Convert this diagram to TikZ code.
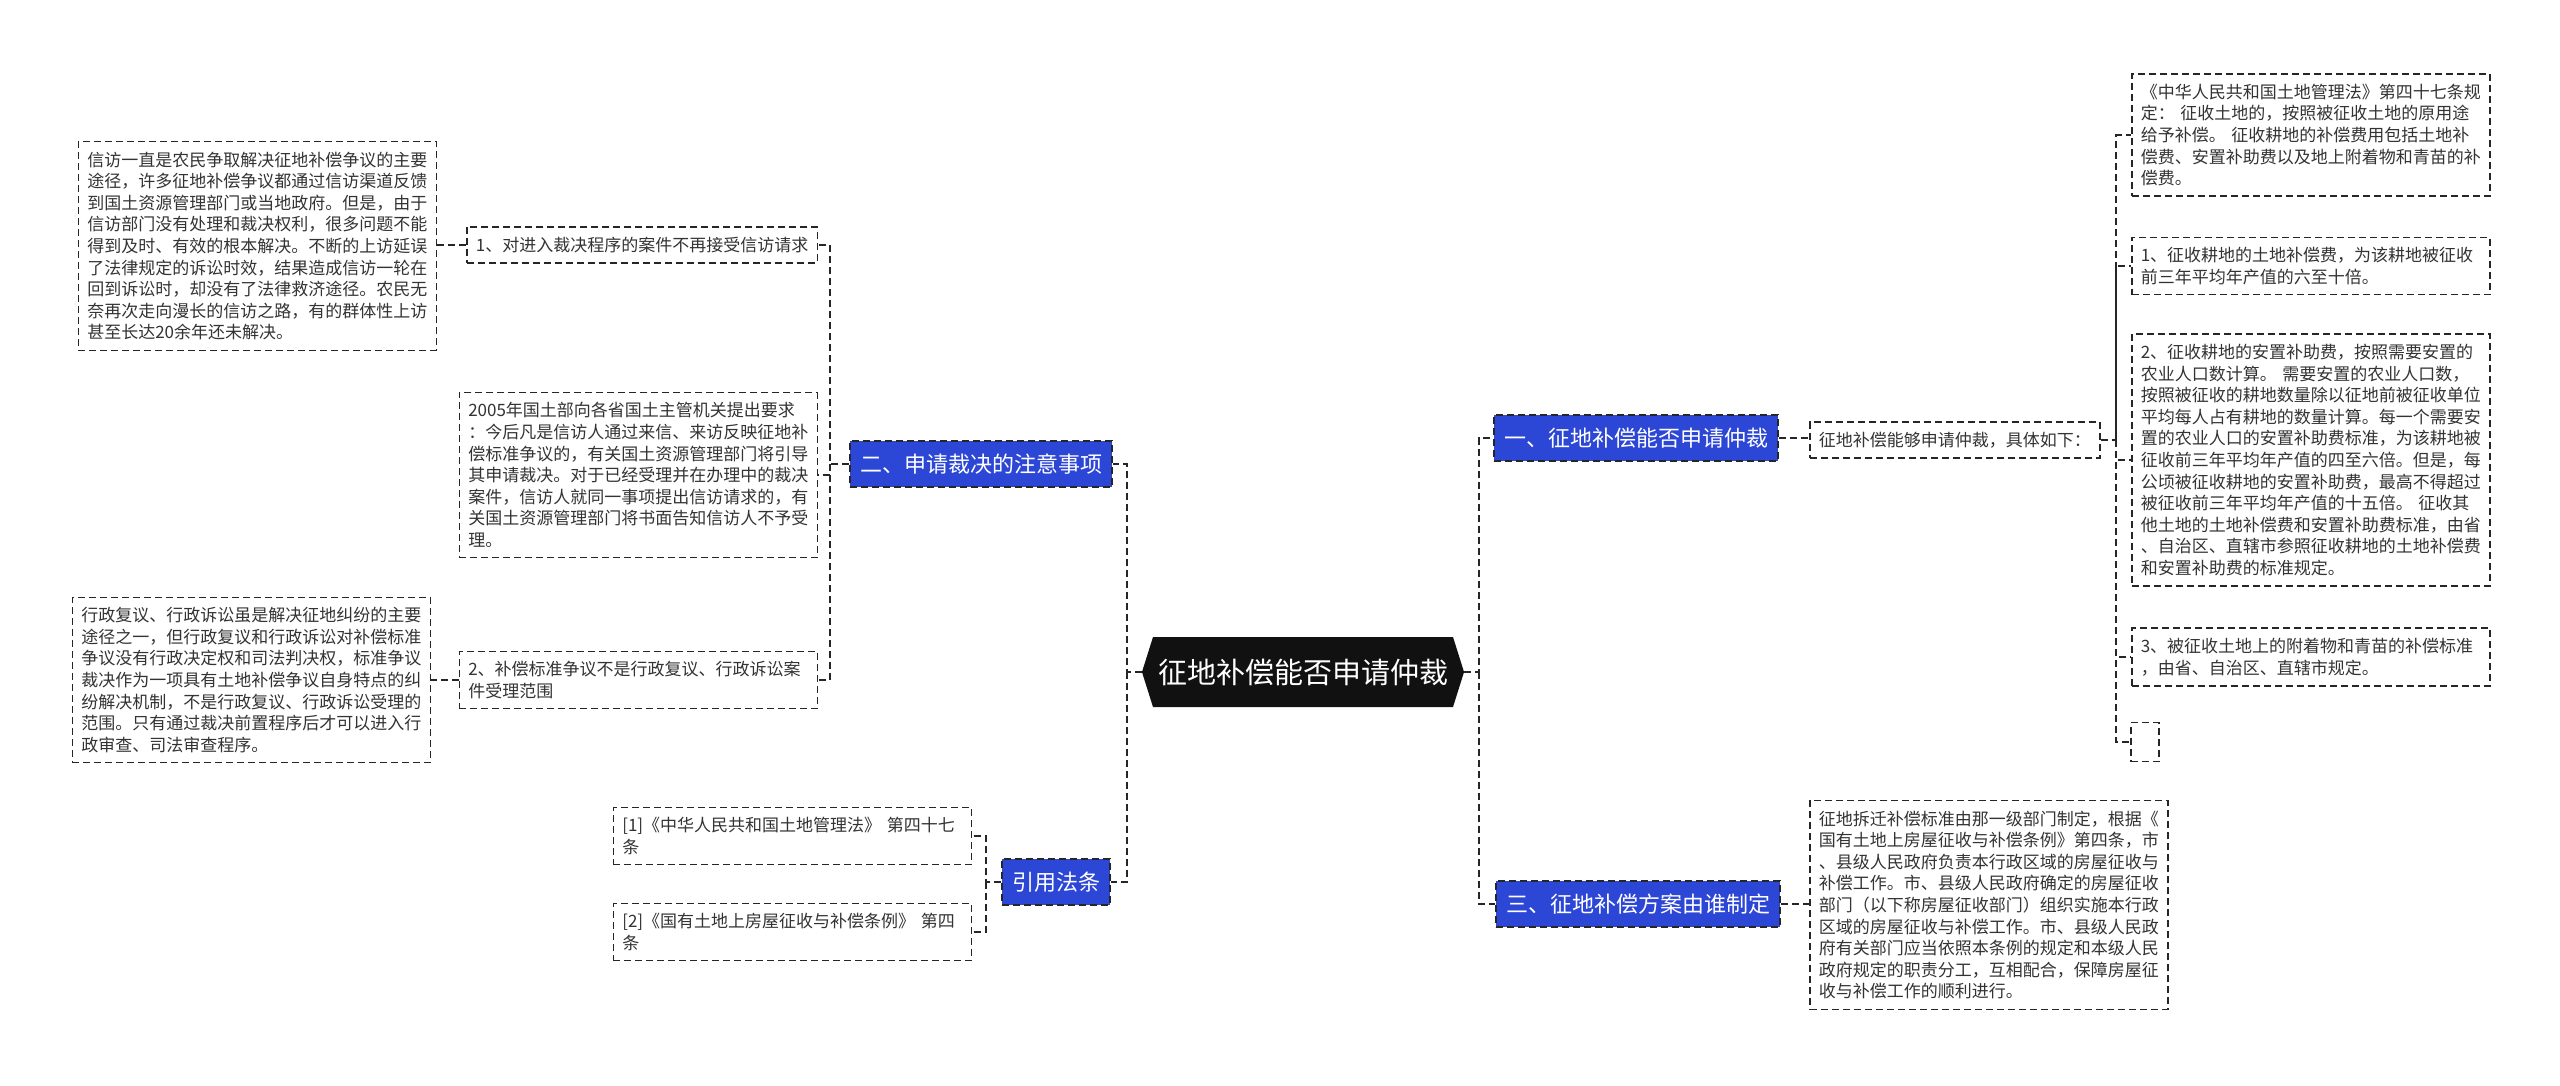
\documentclass[tikz,border=0pt]{standalone}
\usepackage{fontspec}
\setmainfont{Noto Sans CJK SC}
\usetikzlibrary{shapes.symbols}
\definecolor{linec}{HTML}{262626}
\definecolor{textc}{HTML}{333333}
\definecolor{bluec}{RGB}{44,70,214}
\definecolor{rootc}{HTML}{111111}
\begin{document}
\begin{tikzpicture}[x=1pt,y=-1pt,
  dsh/.style={dash pattern=on 7pt off 4pt, line width=1.5pt},
  conn/.style={draw=linec, dsh},
  boxbase/.style={draw=linec, dsh, fill=white, text=textc,
    font=\fontsize{17pt}{21.6pt}\selectfont, inner xsep=9pt, inner ysep=10pt},
  txtbox/.style={boxbase, text width=340pt, align=left},
  linebox/.style={boxbase, align=left},
  bluebox/.style={draw=linec, dsh, fill=bluec, text=white,
    font=\fontsize{22pt}{26pt}\selectfont, inner xsep=10pt, inner ysep=6pt, minimum height=46pt},
  rootbox/.style={signal, signal to=west and east, signal pointer angle=145,
    fill=rootc, text=white, font=\fontsize{29pt}{32pt}\selectfont,
    inner xsep=5pt, inner ysep=18pt, minimum height=70pt}
]
\useasboundingbox (0,0) rectangle (2560,1085);

% verticals
\coordinate (lv1) at (1127,0);
\coordinate (lv2) at (830,0);
\coordinate (lv3) at (986,0);
\coordinate (rv1) at (1479,0);
\coordinate (rv2) at (2116,0);

% root
\node[rootbox] (root) at (1303,672) {征地补偿能否申请仲裁};

% left branch
\node[bluebox] (b2) at (981,464) {二、申请裁决的注意事项};
\node[bluebox] (law) at (1056,882) {引用法条};

\node[linebox, anchor=east] (n1) at (818,245) {1、对进入裁决程序的案件不再接受信访请求};
\node[txtbox, anchor=east] (nb) at (818,475) {2005年国土部向各省国土主管机关提出要求\\：今后凡是信访人通过来信、来访反映征地补\\偿标准争议的，有关国土资源管理部门将引导\\其申请裁决。对于已经受理并在办理中的裁决\\案件，信访人就同一事项提出信访请求的，有\\关国土资源管理部门将书面告知信访人不予受\\理。};
\node[txtbox, anchor=east] (n2) at (818,680) {2、补偿标准争议不是行政复议、行政诉讼案\\件受理范围};

\node[txtbox, anchor=east] (ta) at (437,246) {信访一直是农民争取解决征地补偿争议的主要\\途径，许多征地补偿争议都通过信访渠道反馈\\到国土资源管理部门或当地政府。但是，由于\\信访部门没有处理和裁决权利，很多问题不能\\得到及时、有效的根本解决。不断的上访延误\\了法律规定的诉讼时效，结果造成信访一轮在\\回到诉讼时，却没有了法律救济途径。农民无\\奈再次走向漫长的信访之路，有的群体性上访\\甚至长达20余年还未解决。};
\node[txtbox, anchor=east] (tc) at (431,680) {行政复议、行政诉讼虽是解决征地纠纷的主要\\途径之一，但行政复议和行政诉讼对补偿标准\\争议没有行政决定权和司法判决权，标准争议\\裁决作为一项具有土地补偿争议自身特点的纠\\纷解决机制，不是行政复议、行政诉讼受理的\\范围。只有通过裁决前置程序后才可以进入行\\政审查、司法审查程序。};

\node[txtbox, anchor=east] (l1) at (972,836) {[1]《中华人民共和国土地管理法》 第四十七\\条};
\node[txtbox, anchor=east] (l2) at (972,932) {[2]《国有土地上房屋征收与补偿条例》 第四\\条};

% right branch
\node[bluebox] (y1) at (1636,438) {一、征地补偿能否申请仲裁};
\node[bluebox] (y3) at (1638,904) {三、征地补偿方案由谁制定};

\node[linebox, anchor=west] (n3) at (1809,440) {征地补偿能够申请仲裁，具体如下：};

\node[txtbox, anchor=west] (r1) at (2131,135) {《中华人民共和国土地管理法》第四十七条规\\定： 征收土地的，按照被征收土地的原用途\\给予补偿。 征收耕地的补偿费用包括土地补\\偿费、安置补助费以及地上附着物和青苗的补\\偿费。};
\node[txtbox, anchor=west] (r2) at (2131,266) {1、征收耕地的土地补偿费，为该耕地被征收\\前三年平均年产值的六至十倍。};
\node[txtbox, anchor=west] (r3) at (2131,460) {2、征收耕地的安置补助费，按照需要安置的\\农业人口数计算。 需要安置的农业人口数，\\按照被征收的耕地数量除以征地前被征收单位\\平均每人占有耕地的数量计算。每一个需要安\\置的农业人口的安置补助费标准，为该耕地被\\征收前三年平均年产值的四至六倍。但是，每\\公顷被征收耕地的安置补助费，最高不得超过\\被征收前三年平均年产值的十五倍。 征收其\\他土地的土地补偿费和安置补助费标准，由省\\、自治区、直辖市参照征收耕地的土地补偿费\\和安置补助费的标准规定。};
\node[txtbox, anchor=west] (r4) at (2131,657) {3、被征收土地上的附着物和青苗的补偿标准\\，由省、自治区、直辖市规定。};
\node[boxbase, anchor=west, inner sep=0pt, minimum width=28pt, minimum height=39pt] (r5) at (2130,742) {};

\node[txtbox, anchor=west] (r6) at (1809,905) {征地拆迁补偿标准由那一级部门制定，根据《\\国有土地上房屋征收与补偿条例》第四条，市\\、县级人民政府负责本行政区域的房屋征收与\\补偿工作。市、县级人民政府确定的房屋征收\\部门（以下称房屋征收部门）组织实施本行政\\区域的房屋征收与补偿工作。市、县级人民政\\府有关部门应当依照本条例的规定和本级人民\\政府规定的职责分工，互相配合，保障房屋征\\收与补偿工作的顺利进行。};

% connectors left
\draw[conn] (root.west) -- (root.west -| lv1) |- (b2.east);
\draw[conn] (root.west -| lv1) |- (law.east);
\draw[conn] (b2.west) -- (b2.west -| lv2) |- (n1.east);
\draw[conn] (b2.west -| lv2) |- (nb.east);
\draw[conn] (b2.west -| lv2) |- (n2.east);
\draw[conn] (n1.west) -- (ta.east |- n1.west);
\draw[conn] (n2.west) -- (tc.east |- n2.west);
\draw[conn] (law.west) -- (law.west -| lv3) |- (l1.east);
\draw[conn] (law.west -| lv3) |- (l2.east);

% connectors right
\draw[conn] (root.east) -- (root.east -| rv1) |- (y1.west);
\draw[conn] (root.east -| rv1) |- (y3.west);
\draw[conn] (y1.east) -- (n3.west |- y1.east);
\draw[conn] (y3.east) -- (r6.west |- y3.east);
\draw[conn] (n3.east) -- (n3.east -| rv2) |- (r1.west);
\draw[conn] (n3.east -| rv2) |- (r2.west);
\draw[conn] (n3.east -| rv2) |- (r3.west);
\draw[conn] (n3.east -| rv2) |- (r4.west);
\draw[conn] (n3.east -| rv2) |- (r5.west);
\end{tikzpicture}
\end{document}
